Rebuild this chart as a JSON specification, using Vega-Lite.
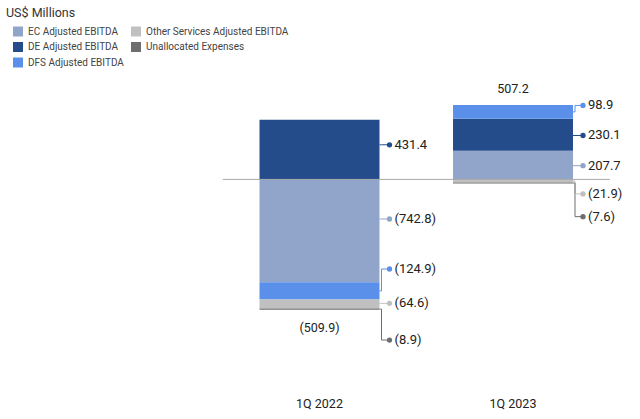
{
  "$schema": "https://vega.github.io/schema/vega-lite/v6.json",
  "width": 387,
  "height": 390,
  "autosize": "none",
  "padding": {"left": 222.75, "top": 0, "right": 30.25, "bottom": 29},
  "datasets": {
    "segments": [
      {"quarter": "1Q 2022", "segment": "EC Adjusted EBITDA", "value": -742.8},
      {"quarter": "1Q 2022", "segment": "DE Adjusted EBITDA", "value": 431.4},
      {"quarter": "1Q 2022", "segment": "DFS Adjusted EBITDA", "value": -124.9},
      {"quarter": "1Q 2022", "segment": "Other Services Adjusted EBITDA", "value": -64.6},
      {"quarter": "1Q 2022", "segment": "Unallocated Expenses", "value": -8.9},
      {"quarter": "1Q 2023", "segment": "EC Adjusted EBITDA", "value": 207.7},
      {"quarter": "1Q 2023", "segment": "DE Adjusted EBITDA", "value": 230.1},
      {"quarter": "1Q 2023", "segment": "DFS Adjusted EBITDA", "value": 98.9},
      {"quarter": "1Q 2023", "segment": "Other Services Adjusted EBITDA", "value": -21.9},
      {"quarter": "1Q 2023", "segment": "Unallocated Expenses", "value": -7.6}
    ],
    "totals": [
      {"quarter": "1Q 2022", "total": -509.9},
      {"quarter": "1Q 2023", "total": 507.2}
    ]
  },
  "data": {"name": "segments"},
  "transform": [
    {"calculate": "indexof(['EC Adjusted EBITDA','DE Adjusted EBITDA','DFS Adjusted EBITDA','Other Services Adjusted EBITDA','Unallocated Expenses'], datum.segment)", "as": "order"},
    {"stack": "value", "groupby": ["quarter"], "sort": [{"field": "order", "order": "ascending"}], "as": ["y0", "y1"]},
    {"calculate": "datum.quarter == '1Q 2022' ? [-286, 250, -647, -895, -1160][datum.order] : [99, 317, 534, -105, -269][datum.order]", "as": "lab"},
    {"calculate": "datum.quarter == '1Q 2022' ? [0, 0, 1, 0, 1][datum.order] : [0, 0, 1, 1, 1][datum.order]", "as": "elb"},
    {"calculate": "datum.elb == 1 ? (datum.y0 + datum.y1) / 2 : datum.lab", "as": "anc"},
    {"calculate": "datum.value < 0 ? '(' + format(-datum.value, '.1f') + ')' : format(datum.value, '.1f')", "as": "txt"}
  ],
  "layer": [
    {
      "mark": {"type": "bar"},
      "encoding": {
        "x": {"field": "quarter", "type": "nominal", "scale": {"paddingInner": 0.38, "paddingOuter": 0.19}, "axis": {"title": null, "domain": false, "ticks": false, "labelFontSize": 12.5, "labelColor": "#222222", "labelPadding": 7, "labelAngle": 0}},
        "y": {"field": "y0", "type": "quantitative", "scale": {"domain": [-1520.6, 1295.3], "nice": false, "zero": false}, "axis": null},
        "y2": {"field": "y1"},
        "color": {
          "field": "segment", "type": "nominal",
          "scale": {
            "domain": ["EC Adjusted EBITDA", "DE Adjusted EBITDA", "DFS Adjusted EBITDA", "Other Services Adjusted EBITDA", "Unallocated Expenses"],
            "range": ["#91a4c9", "#244c8a", "#5a90e9", "#c0c0c0", "#6e6e6e"]
          },
          "legend": {
            "title": "US$ Millions", "orient": "none", "legendX": -216.75, "legendY": 7,
            "columns": 2, "columnPadding": -3, "rowPadding": 5.5,
            "symbolType": "square", "symbolSize": 100, "symbolOffset": 7, "symbolStrokeWidth": 0,
            "labelOffset": 5, "labelFontSize": 10, "labelColor": "#444444",
            "titleFontSize": 12.5, "titleFontWeight": "normal", "titleColor": "#333333", "titlePadding": 7
          }
        }
      }
    },
    {
      "data": {"values": [{}]},
      "mark": {"type": "rule", "color": "#a8a8a8", "strokeWidth": 1},
      "encoding": {
        "y": {"datum": 0, "type": "quantitative", "scale": {"domain": [-1520.6, 1295.3], "nice": false, "zero": false}, "axis": null}
      }
    },
    {
      "encoding": {
        "x": {"field": "quarter", "type": "nominal", "scale": {"paddingInner": 0.38, "paddingOuter": 0.19}, "axis": {"title": null, "domain": false, "ticks": false, "labelFontSize": 12.5, "labelColor": "#222222", "labelPadding": 7, "labelAngle": 0}}
      },
      "layer": [
        {
          "mark": {"type": "rule", "xOffset": 60, "x2Offset": 62, "strokeWidth": 1},
          "encoding": {
            "x2": {"field": "quarter"},
            "y": {"field": "anc", "type": "quantitative", "scale": {"domain": [-1520.6, 1295.3], "nice": false, "zero": false}, "axis": null},
            "color": {"field": "segment", "type": "nominal", "legend": null}
          }
        },
        {
          "mark": {"type": "rule", "xOffset": 62, "strokeWidth": 1},
          "encoding": {
            "y": {"field": "anc", "type": "quantitative", "scale": {"domain": [-1520.6, 1295.3], "nice": false, "zero": false}, "axis": null},
            "y2": {"field": "lab"},
            "color": {"field": "segment", "type": "nominal", "legend": null}
          }
        },
        {
          "mark": {"type": "rule", "xOffset": 62, "x2Offset": 70, "strokeWidth": 1},
          "encoding": {
            "x2": {"field": "quarter"},
            "y": {"field": "lab", "type": "quantitative", "scale": {"domain": [-1520.6, 1295.3], "nice": false, "zero": false}, "axis": null},
            "color": {"field": "segment", "type": "nominal", "legend": null}
          }
        },
        {
          "mark": {"type": "point", "filled": true, "opacity": 1, "size": 28, "xOffset": 70},
          "encoding": {
            "y": {"field": "lab", "type": "quantitative", "scale": {"domain": [-1520.6, 1295.3], "nice": false, "zero": false}, "axis": null},
            "color": {"field": "segment", "type": "nominal", "legend": null}
          }
        },
        {
          "mark": {"type": "text", "xOffset": 75, "align": "left", "baseline": "middle", "fontSize": 13, "color": "#222222"},
          "encoding": {
            "y": {"field": "lab", "type": "quantitative", "scale": {"domain": [-1520.6, 1295.3], "nice": false, "zero": false}, "axis": null},
            "text": {"field": "txt"}
          }
        },
        {
          "transform": [
            {"aggregate": [{"op": "max", "field": "y1", "as": "top"}, {"op": "min", "field": "y1", "as": "bottom"}], "groupby": ["quarter"]},
            {"lookup": "quarter", "from": {"data": {"name": "totals"}, "key": "quarter", "fields": ["total"]}},
            {"calculate": "datum.total < 0 ? '(' + format(-datum.total, '.1f') + ')' : format(datum.total, '.1f')", "as": "ttxt"}
          ],
          "layer": [
            {
              "transform": [{"filter": "datum.total >= 0"}],
              "mark": {"type": "text", "dy": -16, "baseline": "middle", "fontSize": 12.5, "color": "#222222"},
              "encoding": {
                "y": {"field": "top", "type": "quantitative", "scale": {"domain": [-1520.6, 1295.3], "nice": false, "zero": false}, "axis": null},
                "text": {"field": "ttxt"}
              }
            },
            {
              "transform": [{"filter": "datum.total < 0"}],
              "mark": {"type": "text", "dy": 18.5, "baseline": "middle", "fontSize": 12.5, "color": "#222222"},
              "encoding": {
                "y": {"field": "bottom", "type": "quantitative", "scale": {"domain": [-1520.6, 1295.3], "nice": false, "zero": false}, "axis": null},
                "text": {"field": "ttxt"}
              }
            }
          ]
        }
      ]
    }
  ],
  "config": {
    "font": "Roboto",
    "view": {"stroke": null}
  }
}
